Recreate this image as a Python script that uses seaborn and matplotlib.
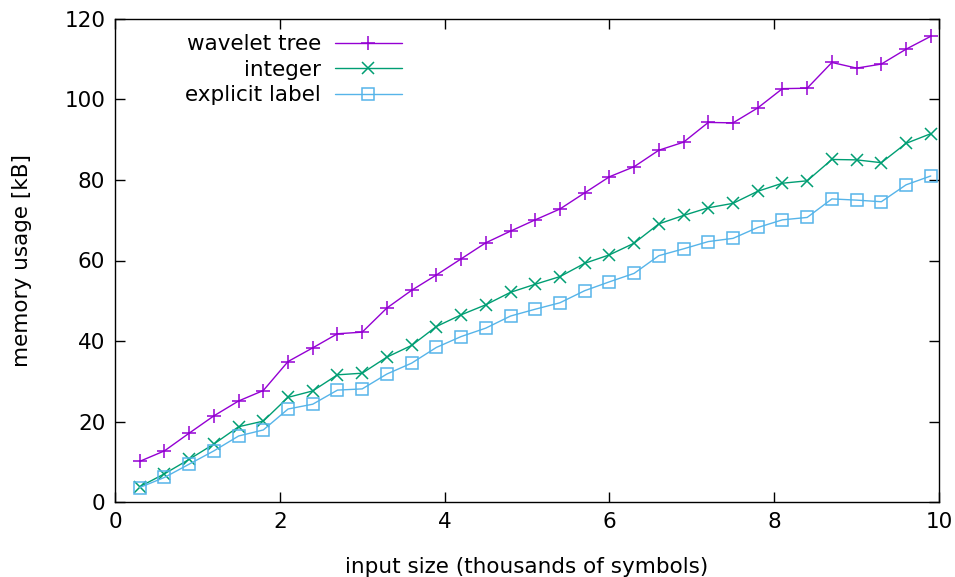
import numpy as np
import pandas as pd
import matplotlib
matplotlib.use("Agg")
import matplotlib.pyplot as plt
import seaborn as sns

input_size = [0.3, 0.6, 0.9, 1.2, 1.5, 1.8, 2.1, 2.4, 2.7, 3.0, 3.3,
              3.6, 3.9, 4.2, 4.5, 4.8, 5.1, 5.4, 5.7, 6.0, 6.3, 6.6,
              6.9, 7.2, 7.5, 7.8, 8.1, 8.4, 8.7, 9.0, 9.3, 9.6, 9.9]

wavelet_tree = [10.1, 12.7, 17.1, 21.4, 25.1, 27.7, 34.9, 38.3, 41.8, 42.2, 48.2,
                52.6, 56.4, 60.4, 64.4, 67.3, 70.1, 72.8, 76.8, 80.8, 83.3, 87.4,
                89.4, 94.3, 94.2, 97.9, 102.7, 102.8, 109.2, 107.8, 108.8, 112.5, 115.7]

integer = [3.8, 7.0, 10.6, 14.4, 18.7, 20.1, 26.0, 27.6, 31.6, 32.0, 36.0,
           38.9, 43.6, 46.5, 49.0, 52.1, 54.1, 56.0, 59.3, 61.4, 64.3, 69.1,
           71.2, 73.1, 74.2, 77.2, 79.2, 79.8, 85.1, 85.0, 84.3, 89.1, 91.5]

explicit_label = [3.6, 6.1, 9.4, 12.7, 16.4, 17.9, 23.1, 24.3, 27.8, 28.1, 31.8,
                  34.5, 38.4, 41.1, 43.2, 46.2, 47.9, 49.5, 52.5, 54.7, 56.8, 61.2,
                  62.9, 64.7, 65.5, 68.2, 70.1, 70.7, 75.3, 75.0, 74.6, 78.8, 81.0]

series = [
    ("wavelet tree", wavelet_tree, "#9400D3", "+", 10),
    ("integer", integer, "#009E73", "x", 9),
    ("explicit label", explicit_label, "#56B4E9", "s", 9),
]

sns.set_theme(style="ticks")
plt.rcParams["font.family"] = ["DejaVu Sans"]
plt.rcParams["font.size"] = 15.5
plt.rcParams["text.color"] = "black"
plt.rcParams["axes.labelcolor"] = "black"

fig = plt.figure(figsize=(9.55, 5.77), dpi=100)
ax = fig.add_axes([115 / 955, 1 - 502 / 577, (939 - 115) / 955, (502 - 19) / 577])

for name, vals, color, marker, msize in series:
    sns.lineplot(x=input_size, y=vals, ax=ax, label=name, color=color,
                 marker=marker, markersize=msize,
                 markerfacecolor="none", markeredgecolor=color,
                 markeredgewidth=1.1, linewidth=1.0)

ax.set_xlim(0, 10)
ax.set_ylim(0, 120)
ax.set_xticks([0, 2, 4, 6, 8, 10])
ax.set_yticks([0, 20, 40, 60, 80, 100, 120])
ax.tick_params(direction="in", length=7, width=1, top=True, right=True,
               labelsize=15.5, colors="black", pad=7)
for s in ax.spines.values():
    s.set_color("black")
    s.set_linewidth(1)
    s.set_visible(True)

ax.set_xlabel("input size (thousands of symbols)", fontsize=15.5, labelpad=18)
ax.set_ylabel("memory usage [kB]", fontsize=15.5, labelpad=23)

# gnuplot-style key: labels right-aligned, sample after the text
leg = ax.legend(loc="upper right", bbox_to_anchor=(0.348, 0.968), frameon=False,
                markerfirst=False, handlelength=3.1, labelspacing=0.25,
                handletextpad=0.65, borderpad=0, borderaxespad=0, fontsize=15.5)

fig.savefig("out.png", dpi=100)
